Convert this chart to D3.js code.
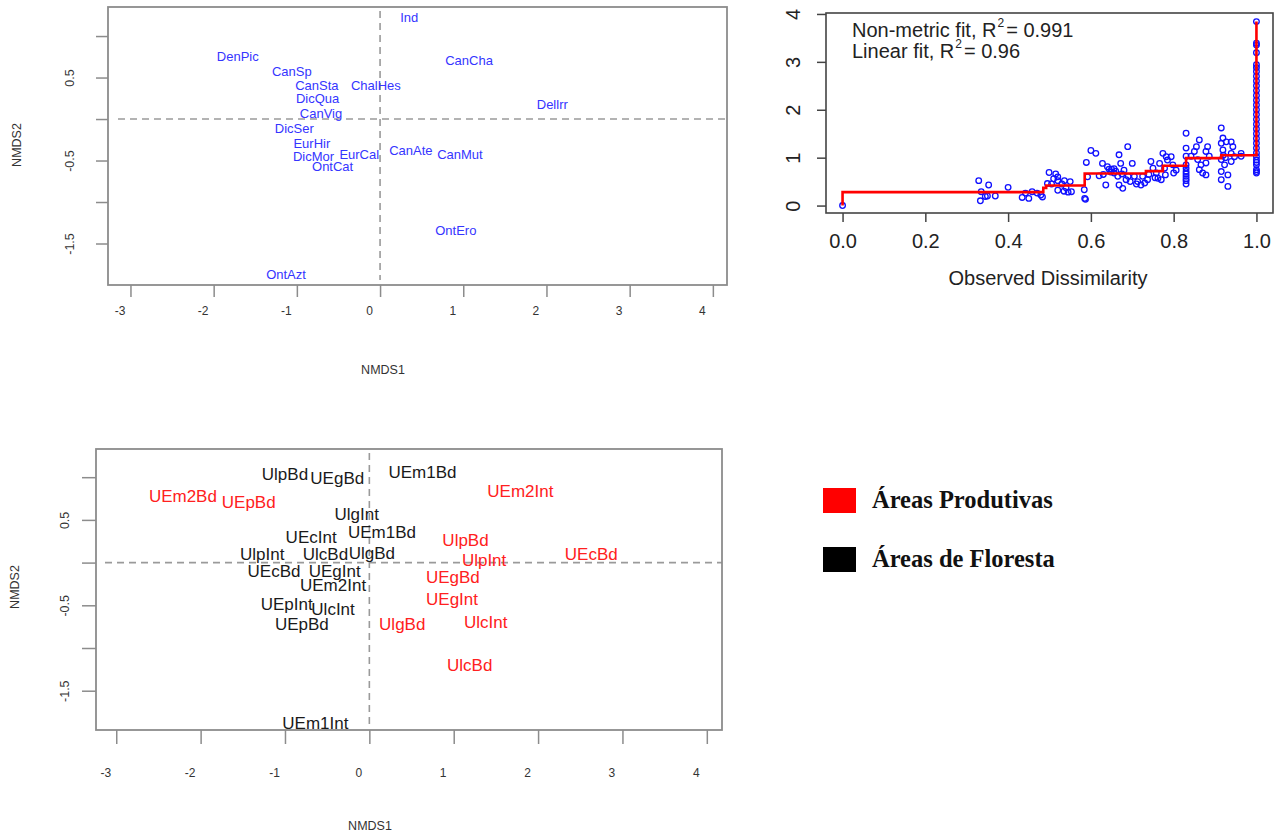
<!DOCTYPE html>
<html><head><meta charset="utf-8">
<script src="https://cdn.jsdelivr.net/npm/d3@7"></script>
<style>body{margin:0;background:#fff}svg{display:block}</style>
</head><body>
<svg id="c" width="1285" height="836"></svg>
<script>
// ---------- DATA ----------
const speciesLabels = ["Ind","DenPic","CanSp","CanSta","ChalHes","DicQua","CanVig","DicSer","EurHir","DicMor","EurCal","OntCat","CanAte","CanMut","CanCha","Dellrr","OntEro","OntAzt"];
const speciesX = [0.35,-1.71,-1.06,-0.76,-0.05,-0.75,-0.71,-1.03,-0.82,-0.80,-0.25,-0.57,0.37,0.96,1.07,2.07,0.91,-1.13];
const speciesY = [1.22,0.75,0.57,0.41,0.40,0.25,0.07,-0.11,-0.29,-0.45,-0.43,-0.57,-0.38,-0.43,0.70,0.17,-1.34,-1.87];

const siteNames = ["UlpBd","UEgBd","UEm1Bd","UEm2Bd","UEpBd","UlgInt","UEm1Bd","UEcInt","UlpInt","UlcBd","UlgBd","UEcBd","UEgInt","UEm2Int","UEpInt","UlcInt","UEpBd","UEm1Int",
                   "UEm2Int","UlpBd","UlpInt","UEcBd","UEgBd","UEgInt","UlgBd","UlcInt","UlcBd"];
const siteX = [-1.00,-0.38,0.63,-2.21,-1.43,-0.15,0.15,-0.69,-1.27,-0.52,0.03,-1.13,-0.41,-0.43,-0.98,-0.43,-0.80,-0.64,
               1.79,1.14,1.36,2.63,0.99,0.98,0.39,1.38,1.19];
const siteY = [1.03,0.99,1.06,0.77,0.70,0.56,0.35,0.29,0.09,0.09,0.11,-0.11,-0.11,-0.27,-0.49,-0.55,-0.73,-1.88,
               0.83,0.26,0.03,0.10,-0.17,-0.43,-0.72,-0.70,-1.21];
const siteGroup = ["F","F","F","P","P","F","F","F","F","F","F","F","F","F","F","F","F","F",
                   "P","P","P","P","P","P","P","P","P"];

const groupKeys = ["P","F"];
const groupLabels = ["Áreas Produtivas","Áreas de Floresta"];
const groupColors = ["#ff0000","#000000"];

const shepX = [0,
 0.329,0.335,0.333,0.345,0.353,0.35,0.369,0.40,0.434,0.442,0.45,0.458,0.47,0.479,0.483,
 0.499,0.515,0.51,0.52,0.505,0.52,0.53,0.536,0.55,0.52,0.535,0.545,0.54,0.495,
 0.553,0.584,0.585,0.587,0.589,0.60,0.612,0.592,0.628,0.64,0.636,0.65,0.656,0.665,0.668,0.672,0.689,0.677,0.668,0.685,0.69,0.70,0.705,0.713,0.721,0.725,0.737,0.745,0.75,0.758,0.762,0.766,0.774,0.778,0.77,0.785,0.78,
 0.644,0.656,0.648,0.66,0.675,0.68,0.63,0.62,0.695,0.71,0.74,0.755,0.73,
 0.782,0.794,0.798,0.80,0.806,
 0.83,0.83,0.83,0.83,0.83,0.83,0.83,0.83,0.83,0.83,0.83,
 0.842,0.85,0.855,0.862,0.858,0.862,0.866,0.87,0.878,0.882,0.886,0.878,0.878,
 0.915,0.919,0.915,0.927,0.919,0.915,0.923,0.915,0.915,0.931,0.931,0.939,0.943,0.939,0.947,0.939,0.963,0.963,0.92,0.925,
 1,1,1,1,1,1,1,1,1,1,1,1,1,1,1,1,1,1,1,1,1,1,1,1,1,1,1,1,1,1,1];
const shepY = [0,
 0.52,0.29,0.10,0.19,0.43,0.20,0.20,0.38,0.17,0.26,0.15,0.29,0.26,0.22,0.18,
 0.69,0.66,0.56,0.60,0.45,0.52,0.45,0.52,0.50,0.32,0.30,0.28,0.37,0.46,
 0.29,0.33,0.15,0.13,0.90,1.15,1.09,0.60,0.88,0.81,0.43,0.76,0.68,0.61,1.06,0.88,1.23,0.36,0.43,0.54,0.61,0.88,0.61,0.50,0.43,0.61,0.54,0.92,0.78,0.68,0.57,0.88,1.09,0.78,0.54,0.95,0.64,
 0.76,0.77,0.70,0.72,0.66,0.74,0.65,0.62,0.50,0.45,0.65,0.58,0.47,
 1.02,1.02,0.85,0.68,0.74,
 1.51,1.20,1.03,0.85,0.71,0.61,0.52,0.45,0.78,0.66,0.56,
 1.03,1.13,1.23,1.37,0.96,0.75,0.85,0.68,1.13,1.23,1.03,0.64,0.89,
 1.62,1.41,1.30,1.33,1.16,0.96,0.85,0.71,0.54,0.64,0.40,1.33,1.23,1.09,1.02,0.92,1.09,1.03,1.05,1.00,
 3.84,3.39,3.35,3.19,2.94,2.88,2.8,2.7,2.6,2.5,2.4,2.3,2.2,2.1,2.0,1.9,1.8,1.7,1.6,1.5,1.4,1.3,1.2,1.1,1.02,0.95,0.9,0.85,0.75,0.71,0.68];

const fitX = [0, 0, 0.485, 0.492, 0.585, 0.733, 0.774, 0.83, 0.915, 1.0];
const fitY = [0, 0.28, 0.37, 0.42, 0.67, 0.72, 0.83, 0.99, 1.05, 3.84];

const nmdsTicksX = [-3,-2,-1,0,1,2,3,4];
const nmdsTicksY = [1,0.5,0,-0.5,-1,-1.5];
const nmdsLabeledY = [0.5,-0.5,-1.5];
const shepTicksX = [0,0.2,0.4,0.6,0.8,1.0];
const shepTickLabelsX = ["0.0","0.2","0.4","0.6","0.8","1.0"];
const shepTicksY = [0,1,2,3,4];

// ---------- DRAW ----------
const svg = d3.select("#c");
svg.append("rect").attr("width",1285).attr("height",836).attr("fill","#fff");
const sans = "Liberation Sans, Arial, sans-serif";

function nmdsPanel(o) {
  const g = svg.append("g");
  const x = d3.scaleLinear().domain(o.xd).range([o.left, o.right]);
  const y = d3.scaleLinear().domain(o.yd).range([o.bottom, o.top]);
  g.append("line").attr("x1", o.hStart).attr("x2", o.right).attr("y1", y(0)).attr("y2", y(0))
    .attr("stroke","#9a9a9a").attr("stroke-width",1.6).attr("stroke-dasharray","7,5");
  g.append("line").attr("x1", x(0)).attr("x2", x(0)).attr("y1", o.top+4).attr("y2", o.bottom-5)
    .attr("stroke","#9a9a9a").attr("stroke-width",1.6).attr("stroke-dasharray","7,5");
  g.append("rect").attr("x",o.left).attr("y",o.top).attr("width",o.right-o.left).attr("height",o.bottom-o.top)
    .attr("fill","none").attr("stroke","#8c8c8c").attr("stroke-width",1.8);
  const ax = g.append("g").attr("transform",`translate(0,${o.bottom})`)
    .call(d3.axisBottom(x).tickValues(nmdsTicksX).tickSize(o.tick).tickFormat(d => String(d)));
  ax.select(".domain").remove();
  ax.selectAll(".tick line").attr("stroke","#8c8c8c").attr("stroke-width",1.5);
  ax.selectAll(".tick text").attr("x",-11).attr("y",o.xLab).attr("dy","0.35em")
    .attr("font-family",sans).attr("font-size",12).attr("fill","#333");
  const ay = g.append("g").attr("transform",`translate(${o.left},0)`)
    .call(d3.axisLeft(y).tickValues(nmdsTicksY).tickSize(o.tick)
      .tickFormat(d => nmdsLabeledY.includes(d) ? String(d) : ""));
  ay.select(".domain").remove();
  ay.selectAll(".tick line").attr("stroke","#8c8c8c").attr("stroke-width",1.5);
  ay.selectAll(".tick text").attr("x",null).attr("dy",null)
    .attr("transform",`translate(${o.yLabX - o.left},0) rotate(-90)`)
    .attr("text-anchor","middle").attr("dominant-baseline","central")
    .attr("font-family",sans).attr("font-size",12.5).attr("fill","#333");
  g.append("text").attr("x",o.xTitle[0]).attr("y",o.xTitle[1]).attr("text-anchor","middle")
    .attr("dominant-baseline","central").attr("font-family",sans).attr("font-size",12.5).attr("fill","#333").text("NMDS1");
  g.append("text").attr("transform",`translate(${o.yTitle[0]},${o.yTitle[1]}) rotate(-90)`).attr("text-anchor","middle")
    .attr("dominant-baseline","central").attr("font-family",sans).attr("font-size",12.5).attr("fill","#333").text("NMDS2");
  return {g,x,y};
}

// Panel A: species
const A = nmdsPanel({left:108,right:727,top:7,bottom:285,xd:[-3.27,4.17],yd:[-2.0,1.35],
  hStart:118,tick:12,xLab:26,yLabX:70,xTitle:[383,370],yTitle:[17,145]});
A.g.selectAll("text.sp").data(speciesLabels).join("text").attr("class","sp")
  .attr("x",(d,i)=>A.x(speciesX[i])).attr("y",(d,i)=>A.y(speciesY[i]))
  .attr("text-anchor","middle").attr("dominant-baseline","central")
  .attr("font-family",sans).attr("font-size",13).attr("fill","#3535ff").text(d=>d);

// Panel C: sites
const C = nmdsPanel({left:96,right:722,top:449,bottom:730,xd:[-3.24,4.18],yd:[-1.96,1.33],
  hStart:105,tick:14,xLab:43,yLabX:65,xTitle:[370,826],yTitle:[15,587]});
C.g.selectAll("text.site").data(siteNames).join("text").attr("class","site")
  .attr("x",(d,i)=>C.x(siteX[i])).attr("y",(d,i)=>C.y(siteY[i]))
  .attr("text-anchor","middle").attr("dominant-baseline","central")
  .attr("font-family",sans).attr("font-size",17).attr("fill",(d,i)=>siteGroup[i]==="P"?"#ff2020":"#1a1a1a").text(d=>d);

// Panel B: Shepard
const B = svg.append("g");
const bx = d3.scaleLinear().domain([-0.04,1.04]).range([826,1273]);
const by = d3.scaleLinear().domain([-0.155,4.02]).range([213,13]);
const bax = B.append("g").attr("transform","translate(0,213)")
  .call(d3.axisBottom(bx).tickValues(shepTicksX).tickSize(9).tickFormat((d,i)=>shepTickLabelsX[i]));
bax.select(".domain").remove();
bax.selectAll(".tick line").attr("stroke","#444").attr("stroke-width",1.5);
bax.selectAll(".tick text").attr("y",28).attr("dy","0.35em").attr("font-family",sans).attr("font-size",20).attr("fill","#222");
const bay = B.append("g").attr("transform","translate(826,0)")
  .call(d3.axisLeft(by).tickValues(shepTicksY).tickSize(9).tickFormat(d => String(d)));
bay.select(".domain").remove();
bay.selectAll(".tick line").attr("stroke","#444").attr("stroke-width",1.5);
bay.selectAll(".tick text").attr("x",null).attr("dy",null)
  .attr("transform","translate(-33,0) rotate(-90)").attr("text-anchor","middle").attr("dominant-baseline","central")
  .attr("font-family",sans).attr("font-size",20).attr("fill","#222");
B.selectAll("circle").data(shepX).join("circle")
  .attr("cx",(d,i)=>bx(d)).attr("cy",(d,i)=>by(shepY[i])).attr("r",2.8)
  .attr("fill","none").attr("stroke","#1010ff").attr("stroke-width",1.3);
const fitPts = fitX.map((d,i)=>[d,fitY[i]]);
B.append("path").datum(fitPts)
  .attr("d",d3.line().x(d=>bx(d[0])).y(d=>by(d[1])).curve(d3.curveStepAfter))
  .attr("fill","none").attr("stroke","#ff0000").attr("stroke-width",2.6);
B.append("rect").attr("x",826).attr("y",13).attr("width",447).attr("height",200)
  .attr("fill","none").attr("stroke","#444").attr("stroke-width",1.6);
B.append("text").attr("x",1048).attr("y",278).attr("text-anchor","middle").attr("dominant-baseline","central")
  .attr("font-family",sans).attr("font-size",20).attr("fill","#222").text("Observed Dissimilarity");
const leg = [["Non-metric fit, R","= 0.991",37],["Linear fit, R","= 0.96",58]];
leg.forEach(l=>{
  const t = B.append("text").attr("x",852).attr("y",l[2]).attr("font-family",sans).attr("font-size",20).attr("fill","#222");
  t.append("tspan").text(l[0]);
  t.append("tspan").attr("font-size",12).attr("dy",-10).attr("dx",1).text("2");
  t.append("tspan").attr("dy",10).attr("dx",2).text(l[1]);
});

// Legend for groups
const L = svg.append("g");
groupKeys.forEach((k,i)=>{
  const yTop = [488,547][i];
  L.append("rect").attr("x",823).attr("y",yTop).attr("width",33).attr("height",25).attr("fill",groupColors[i]);
  L.append("text").attr("x",872).attr("y",yTop+20).attr("font-family","Liberation Serif, Times New Roman, serif")
    .attr("font-weight","bold").attr("font-size",24.5).attr("fill","#111").text(groupLabels[i]);
});
</script>
</body></html>
